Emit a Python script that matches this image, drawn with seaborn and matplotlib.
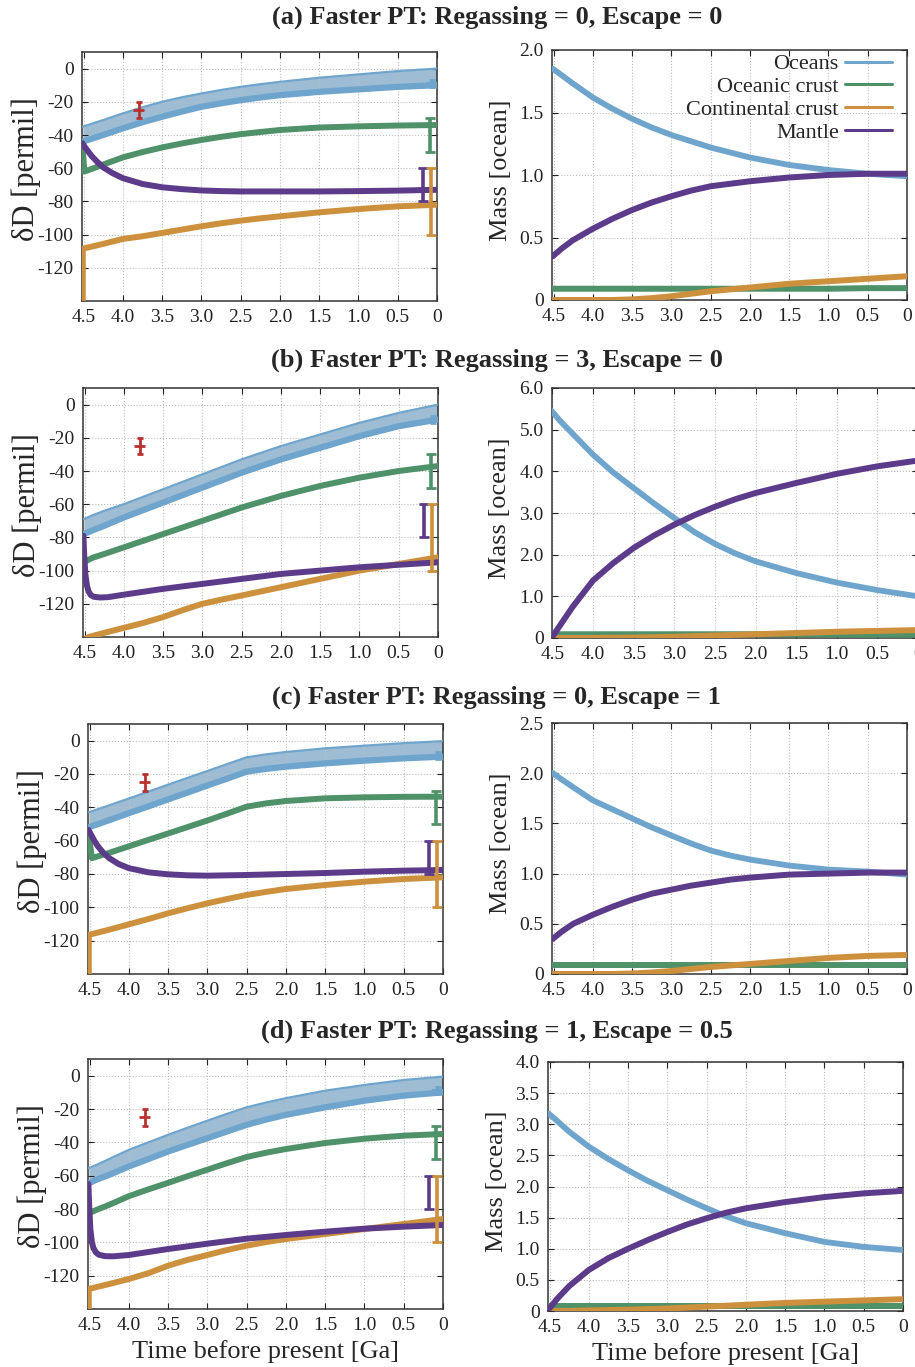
"""
Water cycle model, faster plate tectonics cases:
deltaD of each reservoir (left) and water mass (right) vs time
"""

import matplotlib
matplotlib.use('Agg')
import matplotlib.pyplot as plt
import matplotlib.ticker as mticker
import seaborn as sns

# ── Data ───────────────────────────────────────────────────────────────────
T = [4.51, 4.4, 4.25, 4.0, 3.75, 3.5, 3.25, 3.0, 2.75, 2.5, 2.25, 2.0, 1.5, 1.0, 0.5, 0.0]

# (a) regassing 0, escape 0
a_ocean_hi = [-35, -33.3, -31, -27, -23.3, -20, -17.3, -15, -12.9, -11, -9.4, -8, -5.5, -3.5, -1.5, 0]
a_ocean_lo = [-44, -42.3, -40, -36, -32.3, -29, -25.9, -23, -20.9, -19, -17.4, -16, -14, -12.5, -11, -10]
a_crust_t = [4.515, 4.49, 4.4, 4.25, 4.0, 3.75, 3.5, 3.25, 3.0, 2.75, 2.5, 2.25, 2.0, 1.5, 1.0, 0.5, 0.0]
a_crust = [-45, -62, -60.5, -57.8, -53.5, -50.3, -47.5, -45.1, -43, -41.1, -39.5, -38.2, -37, -35.5, -34.8, -34.3, -34]
a_mantle_t = [4.515, 4.48, 4.44, 4.4, 4.33, 4.25, 4.13, 4.0, 3.75, 3.5, 3.25, 3.0, 2.75, 2.5, 2.0, 1.5, 1.0, 0.5, 0.0]
a_mantle = [-45, -47.5, -50, -52.5, -56, -59.5, -63, -66, -69.5, -71.5, -72.6, -73.4, -73.8, -74, -74, -74, -73.8, -73.5, -73]
a_cont_t = [4.51, 4.51, 4.25, 4.0, 3.75, 3.5, 3.25, 3.0, 2.75, 2.5, 2.25, 2.0, 1.5, 1.0, 0.5, 0.0]
a_cont = [-150, -108.5, -105.6, -102.6, -101, -99, -97, -95, -93.2, -91.6, -90.2, -89, -86.6, -84.6, -83, -82]

# (b) regassing 3, escape 0
b_ocean_hi = [-69, -66.7, -64, -60, -55.5, -51, -46.5, -42, -37.5, -33, -29, -25, -18, -11, -5, 0]
b_ocean_lo = [-78, -75.8, -73, -68, -63.5, -59, -54.5, -50, -45.5, -41, -37, -33, -26, -19, -13, -9]
b_crust_t = T
b_crust = [-95, -92.3, -90, -86, -82, -78, -74, -70, -66, -62, -58.5, -55, -49, -44, -40, -37]
b_mantle_t = [4.515, 4.505, 4.49, 4.47, 4.45, 4.42, 4.38, 4.3, 4.2, 4.0, 3.5, 3.0, 2.5, 2.0, 1.5, 1.0, 0.5, 0.0]
b_mantle = [-79, -90, -102, -109, -112.5, -114.8, -115.8, -116.2, -116, -114.5, -111, -108, -105, -102, -100, -98, -96.5, -95]
b_cont_t = [4.51, 4.45, 4.25, 4.0, 3.75, 3.5, 3.25, 3.0, 2.75, 2.5, 2.25, 2.0, 1.5, 1.0, 0.5, 0.0]
b_cont = [-142, -140, -137.5, -134.5, -131.5, -128, -123.8, -120, -117.4, -115, -112.5, -110, -105, -100, -96, -92]

# (c) regassing 0, escape 1
c_ocean_hi = [-43, -41.2, -38.8, -34.7, -30.6, -26.4, -22.3, -18.2, -14.1, -10, -8.2, -6.8, -4.6, -3, -1.5, -0.3]
c_ocean_lo = [-52, -50.2, -47.7, -43.5, -39.4, -35.2, -31.1, -26.9, -22.8, -18.6, -16.9, -15.6, -13.6, -12, -10.6, -9.6]
c_crust_t = [4.515, 4.47, 4.25, 4.0, 3.75, 3.5, 3.25, 3.0, 2.75, 2.5, 2.25, 2.0, 1.5, 1.0, 0.5, 0.0]
c_crust = [-55, -70.5, -67.3, -63.4, -59.5, -55.7, -51.8, -47.9, -43.8, -39.6, -37.6, -36.2, -34.6, -34, -33.7, -33.6]
c_mantle_t = [4.515, 4.48, 4.44, 4.4, 4.33, 4.25, 4.13, 4.0, 3.75, 3.5, 3.25, 3.0, 2.5, 2.0, 1.5, 1.0, 0.5, 0.0]
c_mantle = [-53.5, -56.5, -60, -63, -67, -70.5, -74, -76.5, -79, -80.2, -80.8, -81, -80.6, -80, -79.4, -78.6, -78, -77.6]
c_cont_t = [4.51, 4.51, 4.25, 4.0, 3.75, 3.5, 3.25, 3.0, 2.75, 2.5, 2.25, 2.0, 1.5, 1.0, 0.5, 0.0]
c_cont = [-150, -116.5, -113.4, -110.2, -107, -103.6, -100.5, -97.6, -95, -92.6, -90.7, -89, -86.6, -84.6, -83, -82]

# (d) regassing 1, escape 0.5
d_ocean_hi = [-55.5, -53.3, -50, -44.5, -40, -35.5, -31.2, -27, -22.9, -19, -16.1, -13.5, -9, -5.6, -2.6, -0.6]
d_ocean_lo = [-64.5, -62.2, -59.5, -54.5, -50, -45.5, -41.5, -37.5, -33.5, -29.5, -26.3, -23.5, -19, -15, -12, -10]
d_crust_t = T
d_crust = [-82.5, -80.3, -77.5, -72.3, -68.2, -64.3, -60.3, -56.4, -52.5, -48.8, -46.2, -44, -40.4, -37.8, -36, -35]
d_mantle_t = [4.515, 4.505, 4.49, 4.47, 4.45, 4.42, 4.38, 4.3, 4.2, 4.0, 3.5, 3.0, 2.5, 2.0, 1.5, 1.0, 0.5, 0.0]
d_mantle = [-65, -78, -92, -100, -103.5, -106, -107.5, -108.3, -108.4, -107.6, -104, -100.8, -97.8, -95.6, -93.6, -91.8, -90.6, -89.6]
d_cont_t = [4.51, 4.51, 4.25, 4.0, 3.75, 3.5, 3.25, 3.0, 2.75, 2.5, 2.25, 2.0, 1.5, 1.0, 0.5, 0.0]
d_cont = [-150, -128, -125, -122, -118.5, -114, -110.5, -107.6, -104.6, -102, -99.8, -98, -95, -92, -89, -86]

# water mass [ocean masses] on T
a_m_oceans = [1.85, 1.80, 1.73, 1.62, 1.53, 1.45, 1.38, 1.32, 1.27, 1.22, 1.18, 1.14, 1.08, 1.04, 1.01, 0.99]
a_m_mantle = [0.35, 0.41, 0.48, 0.57, 0.65, 0.72, 0.78, 0.83, 0.875, 0.91, 0.93, 0.95, 0.98, 1.0, 1.01, 1.01]
a_m_crust = [0.09, 0.09, 0.09, 0.09, 0.09, 0.09, 0.09, 0.09, 0.09, 0.09, 0.09, 0.09, 0.09, 0.09, 0.095, 0.095]
a_m_cont = [0.0, 0.0, 0.0, 0.0, 0.0, 0.005, 0.015, 0.03, 0.05, 0.07, 0.085, 0.1, 0.13, 0.15, 0.17, 0.19]

b_m_oceans = [5.45, 5.2, 4.9, 4.4, 3.97, 3.6, 3.23, 2.88, 2.54, 2.26, 2.03, 1.84, 1.56, 1.33, 1.15, 1.0]
b_m_mantle = [0.0, 0.32, 0.75, 1.38, 1.8, 2.16, 2.46, 2.72, 2.95, 3.15, 3.33, 3.48, 3.72, 3.94, 4.12, 4.26]
b_m_crust = [0.09, 0.09, 0.09, 0.09, 0.09, 0.09, 0.09, 0.09, 0.09, 0.09, 0.09, 0.09, 0.085, 0.08, 0.08, 0.08]
b_m_cont = [0.0, 0.0, 0.0, 0.0, 0.005, 0.01, 0.02, 0.03, 0.045, 0.06, 0.075, 0.09, 0.12, 0.15, 0.17, 0.19]

c_m_oceans = [2.0, 1.94, 1.86, 1.73, 1.64, 1.55, 1.46, 1.38, 1.30, 1.23, 1.18, 1.14, 1.08, 1.04, 1.02, 0.99]
c_m_mantle = [0.35, 0.42, 0.50, 0.59, 0.67, 0.74, 0.80, 0.84, 0.88, 0.91, 0.94, 0.96, 0.99, 1.0, 1.01, 1.01]
c_m_crust = [0.09, 0.09, 0.09, 0.09, 0.09, 0.09, 0.09, 0.09, 0.09, 0.09, 0.09, 0.09, 0.09, 0.09, 0.09, 0.09]
c_m_cont = [0.0, 0.0, 0.0, 0.0, 0.0, 0.005, 0.015, 0.03, 0.05, 0.07, 0.085, 0.1, 0.13, 0.16, 0.18, 0.19]

d_m_oceans = [3.17, 3.05, 2.88, 2.64, 2.44, 2.26, 2.09, 1.94, 1.79, 1.65, 1.52, 1.41, 1.25, 1.11, 1.03, 0.98]
d_m_mantle = [0.03, 0.2, 0.4, 0.66, 0.85, 1.0, 1.14, 1.27, 1.39, 1.49, 1.58, 1.65, 1.75, 1.83, 1.89, 1.93]
d_m_crust = [0.08, 0.08, 0.08, 0.08, 0.08, 0.08, 0.08, 0.08, 0.08, 0.08, 0.08, 0.08, 0.08, 0.08, 0.08, 0.08]
d_m_cont = [0.0, 0.0, 0.0, 0.01, 0.015, 0.02, 0.03, 0.04, 0.055, 0.07, 0.085, 0.1, 0.13, 0.15, 0.17, 0.19]

# observed deltaD values (archean seawater, present ocean / crusts / mantle)
obs_x = [3.8, 0.07, 0.09, 0.18, 0.08]
obs_y = [-25, -9, -40, -70, -80]
obs_yerr = [5, 2, 10, 10, 20]
obs_xerr = [0.07, 0.07, 0, 0, 0]

titles = ['(a) Faster PT: Regassing = 0, Escape = 0',
          '(b) Faster PT: Regassing = 3, Escape = 0',
          '(c) Faster PT: Regassing = 0, Escape = 1',
          '(d) Faster PT: Regassing = 1, Escape = 0.5']
mass_ymax = [2.0, 6.0, 2.5, 4.0]
mass_step = [0.5, 1.0, 0.5, 0.5]
x_ticks = [4.5, 4.0, 3.5, 3.0, 2.5, 2.0, 1.5, 1.0, 0.5, 0.0]
dd_ticks = [0, -20, -40, -60, -80, -100, -120]

# ── Style ──────────────────────────────────────────────────────────────────
sns.set_theme(style='ticks')
plt.rcParams['font.family'] = ['Liberation Serif', 'DejaVu Serif']
plt.rcParams['axes.unicode_minus'] = False

OCEAN = '#6fa5cd'
BAND = '#9ebdd4'
GREEN = '#4f9168'
ORANGE = '#cd903d'
PURPLE = '#5d3b8b'
RED = '#b8312f'
obs_colors = [RED, OCEAN, GREEN, PURPLE, ORANGE]

W, H = 915, 1367
fig = plt.figure(figsize=(W / 100, H / 100), dpi=100)


def rect(x0, x1, top, bot):
    return [x0 / W, 1 - bot / H, (x1 - x0) / W, (bot - top) / H]


left_rects = [rect(82, 437, 52, 301), rect(83, 438, 388, 637),
              rect(88, 443, 724, 974), rect(88, 443, 1059, 1309)]
right_rects = [rect(552, 907, 50, 300), rect(552, 918, 388, 638),
               rect(552, 907, 723, 974), rect(548, 903, 1062, 1311)]
title_y = [17, 360, 697, 1031]

fmt = mticker.FuncFormatter(lambda v, p: '0' if abs(v) < 1e-9 else f'{v:.1f}')


def style_axes(ax):
    ax.set_xlim(4.52, 0)
    ax.set_xticks(x_ticks)
    ax.xaxis.set_major_formatter(fmt)
    ax.tick_params(direction='in', top=True, right=True, length=4, width=0.8,
                   labelsize=14, colors='#222222')
    ax.tick_params(axis='x', pad=6)
    ax.tick_params(axis='y', pad=6)
    ax.grid(True, ls=':', color='#bdbdbd', lw=0.8)
    ax.set_axisbelow('line')
    for s in ax.spines.values():
        s.set_color('#333333')
        s.set_linewidth(1.1)
    ax.set_xlabel('')


def line(ax, x, y, color, lw, label=None):
    sns.lineplot(x=x, y=y, ax=ax, color=color, linewidth=lw, estimator=None,
                 sort=False, label=label, legend=False, zorder=3)


panels = [
    (a_ocean_hi, a_ocean_lo, a_crust_t, a_crust, a_mantle_t, a_mantle, a_cont_t, a_cont,
     a_m_oceans, a_m_crust, a_m_cont, a_m_mantle),
    (b_ocean_hi, b_ocean_lo, b_crust_t, b_crust, b_mantle_t, b_mantle, b_cont_t, b_cont,
     b_m_oceans, b_m_crust, b_m_cont, b_m_mantle),
    (c_ocean_hi, c_ocean_lo, c_crust_t, c_crust, c_mantle_t, c_mantle, c_cont_t, c_cont,
     c_m_oceans, c_m_crust, c_m_cont, c_m_mantle),
    (d_ocean_hi, d_ocean_lo, d_crust_t, d_crust, d_mantle_t, d_mantle, d_cont_t, d_cont,
     d_m_oceans, d_m_crust, d_m_cont, d_m_mantle),
]

for i, (hi, lo, ct, cr, mt, mn, kt, kn, mo, mc, mk, mm) in enumerate(panels):
    # ── deltaD panel ──
    ax = fig.add_axes(left_rects[i])
    ax.fill_between(T, lo, hi, color=BAND, lw=0, zorder=1)
    line(ax, T, hi, OCEAN, 1.6)
    line(ax, T, lo, OCEAN, 4.5)
    line(ax, ct, cr, GREEN, 4.3)
    line(ax, kt, kn, ORANGE, 4.3)
    line(ax, mt, mn, PURPLE, 4.3)
    for x, y, ye, xe, c in zip(obs_x, obs_y, obs_yerr, obs_xerr, obs_colors):
        small = c in (RED, OCEAN)
        ax.errorbar(x, y, yerr=ye, fmt='none', ecolor=c,
                    elinewidth=2.0 if c == RED else 2.6,
                    capsize=2.2 if small else 3.5, capthick=2.0, zorder=5)
        if xe:
            ax.errorbar(x, y, xerr=xe, fmt='none', ecolor=c,
                        elinewidth=2.0 if c == RED else 3.0, capsize=0, zorder=5)
    style_axes(ax)
    ax.set_ylim(-140, 10)
    ax.set_yticks(dd_ticks)
    ax.set_ylabel('δD [permil]', fontsize=22)
    ax.yaxis.set_label_coords(-0.115, 0.53)

    # ── mass panel ──
    axm = fig.add_axes(right_rects[i])
    line(axm, T, mo, OCEAN, 4.2, 'Oceans')
    line(axm, T, mc, GREEN, 4.3, 'Oceanic crust')
    line(axm, T, mk, ORANGE, 4.3, 'Continental crust')
    line(axm, T, mm, PURPLE, 4.3, 'Mantle')
    style_axes(axm)
    if i == 1:
        axm.set_xlim(4.505, 0)
    axm.set_ylim(0, mass_ymax[i])
    n = int(round(mass_ymax[i] / mass_step[i]))
    axm.set_yticks([k * mass_step[i] for k in range(n + 1)])
    axm.yaxis.set_major_formatter(fmt)
    axm.set_ylabel('Mass [ocean]', fontsize=19)
    axm.yaxis.set_label_coords(-0.113, 0.52)
    if i == 0:
        leg = axm.legend(loc='upper right', bbox_to_anchor=(0.958, 0.985),
                         markerfirst=False, frameon=False, fontsize=16,
                         handlelength=2.1, labelspacing=0.1, handletextpad=0.3,
                         borderaxespad=0, borderpad=0)
        for h in leg.get_lines():
            h.set_linewidth(2.2)

    if i == 3:
        ax.set_xlabel('Time before present [Ga]', fontsize=19, labelpad=4)
        axm.set_xlabel('Time before present [Ga]', fontsize=19, labelpad=4)

    fig.text(0.543, 1 - title_y[i] / H, titles[i], ha='center', va='center',
             fontsize=19, fontweight='bold')

fig.savefig('out.png', dpi=100)
plt.close(fig)
print('[Saved] out.png')
